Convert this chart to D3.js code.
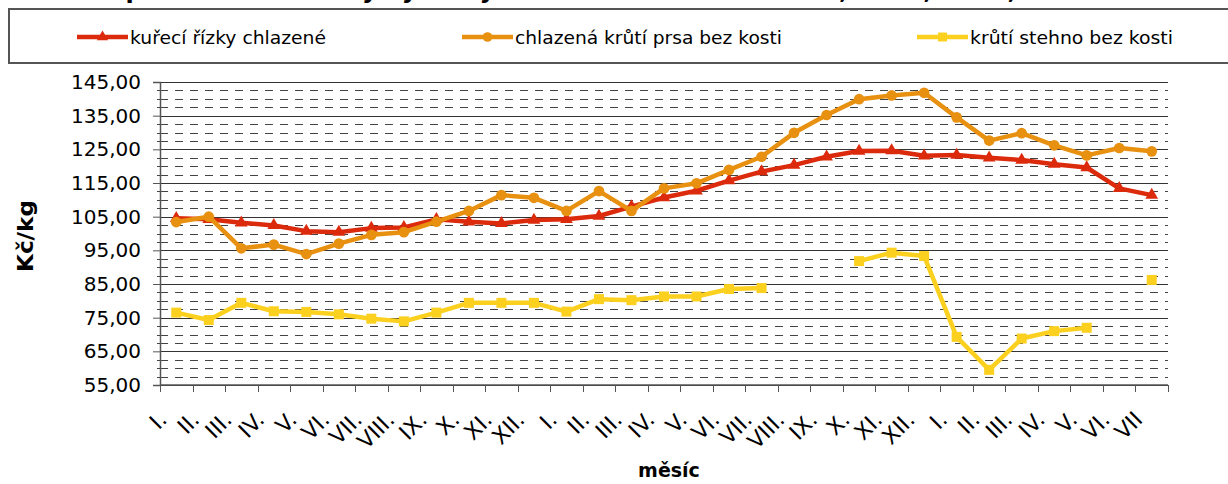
<!DOCTYPE html>
<html>
<head>
<meta charset="utf-8">
<script src="https://cdn.jsdelivr.net/npm/d3@7"></script>
<style>
    body { margin: 0; background: #fff; }
    svg { display: block; font-family: 'DejaVu Sans', Verdana, sans-serif; }
</style>
</head>
<body>
<svg id="chart" width="1228" height="484"></svg>
<script>
// mesice (3 roky, posledni jen do VII)
const months = ['I.', 'II.', 'III.', 'IV.', 'V.', 'VI.', 'VII.', 'VIII.', 'IX.', 'X.', 'XI.', 'XII.',
    'I.', 'II.', 'III.', 'IV.', 'V.', 'VI.', 'VII.', 'VIII.', 'IX.', 'X.', 'XI.', 'XII.',
    'I.', 'II.', 'III.', 'IV.', 'V.', 'VI.', 'VII'];

const rizky = [104.5, 104.2, 103.2, 102.4, 100.7, 100.4, 101.6, 101.8, 104.2, 103.5, 103.0, 104.0,
    104.2, 105.2, 108.0, 110.7, 112.7, 115.7, 118.4, 120.3, 122.8, 124.5, 124.6, 123.1,
    123.3, 122.5, 121.8, 120.6, 119.6, 113.4, 111.4];

const prsa = [103.4, 105.0, 95.6, 96.7, 93.9, 97.0, 99.6, 100.4, 103.5, 106.7, 111.4, 110.6,
    106.7, 112.6, 106.7, 113.4, 114.9, 118.9, 122.8, 129.9, 135.2, 139.9, 141.0, 141.8,
    134.5, 127.6, 129.8, 126.2, 123.2, 125.4, 124.4];

const stehno = [76.5, 74.3, 79.4, 76.9, 76.7, 76.0, 74.7, 73.9, 76.5, 79.4, 79.4, 79.4,
    76.8, 80.5, 80.2, 81.3, 81.3, 83.5, 83.8, null, null, 91.8, 94.3, 93.3,
    69.3, 59.5, 68.8, 71.0, 72.0, null, 86.2];

const seriesNames = ['kuřecí řízky chlazené', 'chlazená krůtí prsa bez kosti', 'krůtí stehno bez kosti'];
const yTicks = [55, 65, 75, 85, 95, 105, 115, 125, 135, 145];

const colors = ['#dc2a0c', '#e8900f', '#fcd01f'];
const symbols = [d3.symbolTriangle, d3.symbolCircle, d3.symbolSquare];
const symbolSizes = [70, 90, 100];

const series = [rizky, prsa, stehno];

const margin = { left: 160, right: 1168, top: 82, bottom: 385 };

const svg = d3.select('#chart');

const x = d3.scaleBand()
    .domain(d3.range(months.length))
    .range([margin.left, margin.right]);

const y = d3.scaleLinear()
    .domain([55, 145])
    .range([margin.bottom, margin.top]);

const fmt = d => d3.format('.2f')(d).replace('.', ',');

// titulek - v originalu oriznuty hornim okrajem, vidi se jen spodni tahy
svg.append('text')
    .attr('x', 600)
    .attr('y', -2)
    .attr('text-anchor', 'middle')
    .style('font-size', '24px')
    .style('font-weight', 'bold')
    .text('Spotřebitelské ceny vybraných druhů drůbežího masa, 2008, 2009, 2010');

// legenda
svg.append('rect')
    .attr('x', 9)
    .attr('y', 9)
    .attr('width', 1240)
    .attr('height', 54)
    .attr('fill', '#fff')
    .attr('stroke', '#555')
    .attr('stroke-width', 2);

const legendX = [77, 462, 917];
const legendW = [196, 267, 203];

seriesNames.forEach(function(name, i) {
    const g = svg.append('g').attr('transform', 'translate(' + legendX[i] + ',37)');
    g.append('line')
        .attr('x1', 0).attr('x2', 51)
        .attr('stroke', colors[i])
        .attr('stroke-width', 4.5);
    g.append('path')
        .attr('transform', 'translate(25.5,0)')
        .attr('d', d3.symbol().type(symbols[i]).size(symbolSizes[i] * 0.8))
        .attr('fill', colors[i]);
    g.append('text')
        .attr('x', 53)
        .attr('y', 7)
        .attr('textLength', legendW[i])
        .attr('lengthAdjust', 'spacingAndGlyphs')
        .style('font-size', '18px')
        .text(name);
});

// mrizka
const grid = svg.append('g');
d3.range(55, 145.1, 2.5).forEach(function(v) {
    const major = (v - 55) % 10 === 0;
    grid.append('line')
        .attr('x1', margin.left)
        .attr('x2', margin.right)
        .attr('y1', Math.round(y(v)) + 0.5)
        .attr('y2', Math.round(y(v)) + 0.5)
        .attr('stroke', major ? '#333' : '#444')
        .attr('stroke-width', major ? 1.2 : 1)
        .attr('stroke-dasharray', major ? null : '8,7');
    if (!major) {
        grid.append('line')
            .attr('x1', margin.left - 3)
            .attr('x2', margin.left + 4)
            .attr('y1', Math.round(y(v)) + 0.5)
            .attr('y2', Math.round(y(v)) + 0.5)
            .attr('stroke', '#444');
    }
});

// osa y
svg.append('g')
    .attr('transform', 'translate(' + margin.left + ',0)')
    .call(d3.axisLeft(y).tickValues(yTicks).tickFormat(fmt).tickSize(7).tickPadding(12))
    .call(g => g.select('.domain').attr('stroke', '#555').attr('stroke-width', 1.5))
    .call(g => g.selectAll('.tick line').attr('stroke', '#555'))
    .call(g => g.selectAll('text')
        .attr('fill', '#000')
        .style('font-family', "'DejaVu Sans', Verdana, sans-serif")
        .style('font-size', '20px'));

// osa x
const xAxis = svg.append('g')
    .attr('transform', 'translate(0,' + margin.bottom + ')');

xAxis.append('line')
    .attr('x1', margin.left).attr('x2', margin.right)
    .attr('stroke', '#555')
    .attr('stroke-width', 1.5);

xAxis.selectAll('.xtick')
    .data(d3.range(months.length + 1))
    .enter()
    .append('line')
        .attr('class', 'xtick')
        .attr('x1', d => Math.round(margin.left + d * x.step()) + 0.5)
        .attr('x2', d => Math.round(margin.left + d * x.step()) + 0.5)
        .attr('y1', 0)
        .attr('y2', 7)
        .attr('stroke', '#555');

xAxis.selectAll('.xlabel')
    .data(months)
    .enter()
    .append('text')
        .attr('class', 'xlabel')
        .attr('text-anchor', 'end')
        .attr('transform', (d, i) => 'translate(' + (x(i) + x.bandwidth() / 2 - 8) + ',36) rotate(-45)')
        .style('font-size', '22px')
        .text(d => d);

// popisky os
svg.append('text')
    .attr('transform', 'translate(33,236) rotate(-90)')
    .attr('text-anchor', 'middle')
    .attr('textLength', 72)
    .attr('lengthAdjust', 'spacingAndGlyphs')
    .style('font-size', '21px')
    .style('font-weight', 'bold')
    .text('Kč/kg');

svg.append('text')
    .attr('x', 669)
    .attr('y', 477)
    .attr('text-anchor', 'middle')
    .style('font-size', '19px')
    .style('font-weight', 'bold')
    .text('měsíc');

// cary a body
const line = d3.line()
    .defined(d => d != null)
    .x((d, i) => x(i) + x.bandwidth() / 2)
    .y(d => y(d));

series.forEach(function(values, s) {
    svg.append('path')
        .datum(values)
        .attr('d', line)
        .attr('fill', 'none')
        .attr('stroke', colors[s])
        .attr('stroke-width', 4.5)
        .attr('stroke-linejoin', 'round');

    svg.append('g')
        .selectAll('path')
        .data(values.map((v, i) => ({ v: v, i: i })).filter(d => d.v != null))
        .enter()
        .append('path')
            .attr('transform', d => 'translate(' + (x(d.i) + x.bandwidth() / 2) + ',' + y(d.v) + ')')
            .attr('d', d3.symbol().type(symbols[s]).size(symbolSizes[s]))
            .attr('fill', colors[s]);
});
</script>
</body>
</html>
